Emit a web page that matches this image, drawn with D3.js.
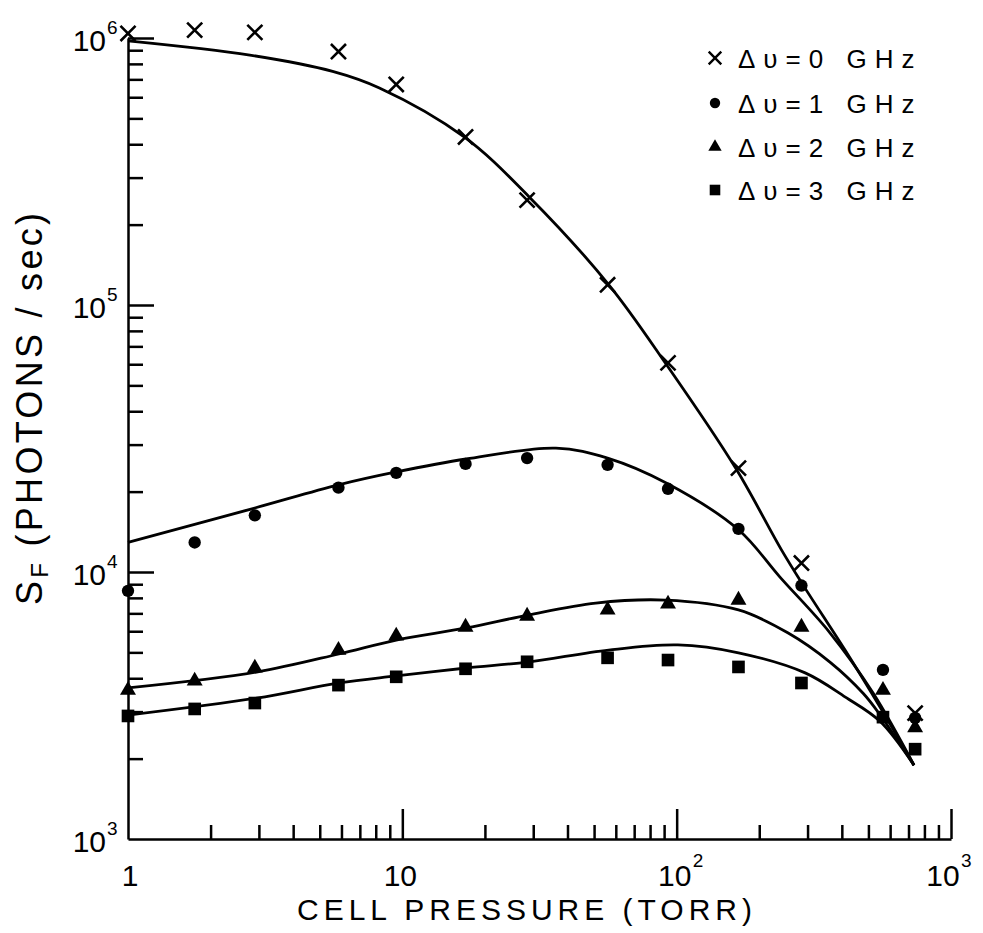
<!DOCTYPE html>
<html>
<head>
<meta charset="utf-8">
<script src="https://cdn.jsdelivr.net/npm/d3@7"></script>
<style>
  body { margin: 0; background: #fff; }
  svg { display: block; }
  text { font-family: "Liberation Sans", Arial, sans-serif; fill: #000; }
</style>
</head>
<body>
<div id="chart"></div>
<script>
// 数据
const pressures = [1, 1.75, 2.9, 5.85, 9.5, 17, 28.5, 56, 93, 168, 285, 565, 740];

const s0GHz = [1.04e6, 1.07e6, 1.05e6, 8.9e5, 6.7e5, 4.26e5, 2.47e5, 1.19e5, 6.07e4, 2.45e4, 1.08e4, null, 2.96e3];
const s1GHz = [8.5e3, 1.29e4, 1.63e4, 2.07e4, 2.35e4, 2.54e4, 2.67e4, 2.52e4, 2.05e4, 1.45e4, 8.9e3, 4.3e3, 2.84e3];
const s2GHz = [3.61e3, 3.91e3, 4.37e3, 5.1e3, 5.76e3, 6.22e3, 6.84e3, 7.21e3, 7.59e3, 7.85e3, 6.22e3, 3.61e3, 2.61e3];
const s3GHz = [2.89e3, 3.07e3, 3.23e3, 3.77e3, 4.05e3, 4.34e3, 4.61e3, 4.77e3, 4.68e3, 4.41e3, 3.84e3, 2.86e3, 2.17e3];

// 拟合曲线
const fit0P = [1, 2.78, 5.57, 8.25, 16.8, 29, 56.6, 92, 164, 241, 289, 411, 551, 733];
const fit0S = [9.76e5, 8.63e5, 7.5e5, 6.5e5, 4.26e5, 2.54e5, 1.19e5, 5.96e4, 2.45e4, 1.21e4, 8.93e3, 5.1e3, 3.12e3, 1.89e3];
const fit1P = [1, 2.92, 5.85, 9.5, 17.1, 36.3, 56, 92, 168, 238, 362, 520, 733];
const fit1S = [1.29e4, 1.74e4, 2.12e4, 2.37e4, 2.65e4, 2.91e4, 2.67e4, 2.15e4, 1.44e4, 9.57e3, 5.92e3, 3.52e3, 1.89e3];
const fit2P = [1, 2.94, 5.87, 9.5, 17.1, 28.7, 50.7, 91, 168, 255, 362, 480, 551, 733];
const fit2S = [3.68e3, 4.22e3, 4.93e3, 5.56e3, 6.17e3, 6.9e3, 7.65e3, 7.85e3, 7.21e3, 5.91e3, 4.6e3, 3.5e3, 2.92e3, 1.89e3];
const fit3P = [1, 2.94, 5.87, 9.5, 17.1, 28.7, 56.5, 101, 168, 294, 412, 551, 733];
const fit3S = [2.91e3, 3.37e3, 3.84e3, 4.08e3, 4.37e3, 4.6e3, 5.1e3, 5.33e3, 4.98e3, 4.19e3, 3.4e3, 2.76e3, 1.89e3];

const legendLabels = ["\u0394\u03c5=0 GHz", "\u0394\u03c5=1 GHz", "\u0394\u03c5=2 GHz", "\u0394\u03c5=3 GHz"];
const xMajor = [10, 100, 1000];
const yMajor = [1e4, 1e5, 1e6];
const xTickLabels = [[1, "1", ""], [10, "10", ""], [100, "10", "2"], [1000, "10", "3"]];
const yTickLabels = [[1e3, "3"], [1e4, "4"], [1e5, "5"], [1e6, "6"]];

const width = 983, height = 933;
const svg = d3.select("#chart").append("svg")
    .attr("width", width)
    .attr("height", height);

const x = d3.scaleLog().domain([1, 1000]).range([128, 951]);
const y = d3.scaleLog().domain([1e3, 1e6]).range([839, 38]);

// 次刻度
const minorX = [];
const minorY = [];
[1, 10, 100].forEach(d => { for (let k = 2; k <= 9; k++) minorX.push(d * k); });
[1e3, 1e4, 1e5].forEach(d => { for (let k = 2; k <= 9; k++) minorY.push(d * k); });

// 坐标轴（刻度向内）
function styleAxis(g) {
    g.selectAll("path, line").attr("stroke", "#000").attr("stroke-width", 2.5);
    g.selectAll("text").remove();
}

svg.append("g")
    .attr("transform", `translate(0,${y(1e3)})`)
    .call(d3.axisBottom(x).tickValues(minorX).tickSizeInner(-14).tickSizeOuter(0).tickFormat(""))
    .call(styleAxis);
svg.append("g")
    .attr("transform", `translate(0,${y(1e3)})`)
    .call(d3.axisBottom(x).tickValues(xMajor).tickSizeInner(-30).tickSizeOuter(0).tickFormat(""))
    .call(styleAxis)
    .select(".domain").remove();

svg.append("g")
    .attr("transform", `translate(${x(1)},0)`)
    .call(d3.axisLeft(y).tickValues(minorY).tickSizeInner(-15).tickSizeOuter(0).tickFormat(""))
    .call(styleAxis);
svg.append("g")
    .attr("transform", `translate(${x(1)},0)`)
    .call(d3.axisLeft(y).tickValues(yMajor).tickSizeInner(-26).tickSizeOuter(0).tickFormat(""))
    .call(styleAxis)
    .select(".domain").remove();

// 刻度标签
xTickLabels.forEach(([v, base, sup]) => {
    const cx = v === 1000 ? x(v) - 8 : x(v) - 2;
    svg.append("text")
        .attr("x", cx + (v === 1 ? 4 : 0))
        .attr("y", 886)
        .attr("text-anchor", "middle")
        .attr("font-size", 30)
        .text(base);
    if (sup) {
        svg.append("text")
            .attr("x", cx + 18)
            .attr("y", 867)
            .attr("font-size", 19)
            .text(sup);
    }
});

yTickLabels.forEach(([v, sup]) => {
    svg.append("text")
        .attr("x", 106)
        .attr("y", y(v) + 13)
        .attr("text-anchor", "end")
        .attr("font-size", 30)
        .text("10");
    svg.append("text")
        .attr("x", 107)
        .attr("y", y(v) - 4)
        .attr("font-size", 19)
        .text(sup);
});

// 轴标题
svg.append("text")
    .attr("x", 297)
    .attr("y", 920)
    .attr("font-size", 30)
    .attr("textLength", 455)
    .attr("lengthAdjust", "spacing")
    .text("CELL PRESSURE (TORR)");

const yl = svg.append("text")
    .attr("transform", "translate(42,605) rotate(-90)")
    .attr("font-size", 36)
    .attr("textLength", 392)
    .attr("lengthAdjust", "spacing");
yl.append("tspan").text("S");
yl.append("tspan").attr("font-size", 24).attr("dy", 6).text("F");
yl.append("tspan").attr("dy", -6).text(" (PHOTONS / sec)");

// 拟合曲线
const line = d3.line()
    .x(d => x(d[0]))
    .y(d => y(d[1]))
    .curve(d3.curveCatmullRom.alpha(0.5));

[[fit0P, fit0S], [fit1P, fit1S], [fit2P, fit2S], [fit3P, fit3S]].forEach(([ps, ss]) => {
    svg.append("path")
        .datum(ps.map((p, i) => [p, ss[i]]))
        .attr("d", line)
        .attr("fill", "none")
        .attr("stroke", "#000")
        .attr("stroke-width", 2.8);
});

// 数据点
const symbols = [
    { type: d3.symbolTimes, size: 150, stroke: true },
    { type: d3.symbolCircle, size: 120, stroke: false },
    { type: d3.symbolTriangle, size: 110, stroke: false },
    { type: d3.symbolSquare, size: 160, stroke: false }
];

function drawMarks(values, sym) {
    const pts = pressures.map((p, i) => [p, values[i]]).filter(d => d[1] != null);
    svg.append("g").selectAll("path")
        .data(pts)
        .join("path")
        .attr("transform", d => `translate(${x(d[0])},${y(d[1])})`)
        .attr("d", d3.symbol(sym.type, sym.size))
        .attr("fill", sym.stroke ? "none" : "#000")
        .attr("stroke", sym.stroke ? "#000" : "none")
        .attr("stroke-width", 2.6);
}

drawMarks(s3GHz, symbols[3]);
drawMarks(s2GHz, symbols[2]);
drawMarks(s1GHz, symbols[1]);
drawMarks(s0GHz, symbols[0]);

// 图例
const legendY = [58, 103, 147, 190];
legendLabels.forEach((label, i) => {
    svg.append("path")
        .attr("transform", `translate(715,${legendY[i]})`)
        .attr("d", d3.symbol(symbols[i].type, symbols[i].size * 0.7))
        .attr("fill", symbols[i].stroke ? "none" : "#000")
        .attr("stroke", symbols[i].stroke ? "#000" : "none")
        .attr("stroke-width", 2.4);
    svg.append("text")
        .attr("x", 738)
        .attr("y", legendY[i] + 10)
        .attr("font-family", "'DejaVu Sans', sans-serif")
        .attr("font-size", 26)
        .attr("letter-spacing", 8)
        .text(label);
});
</script>
</body>
</html>
